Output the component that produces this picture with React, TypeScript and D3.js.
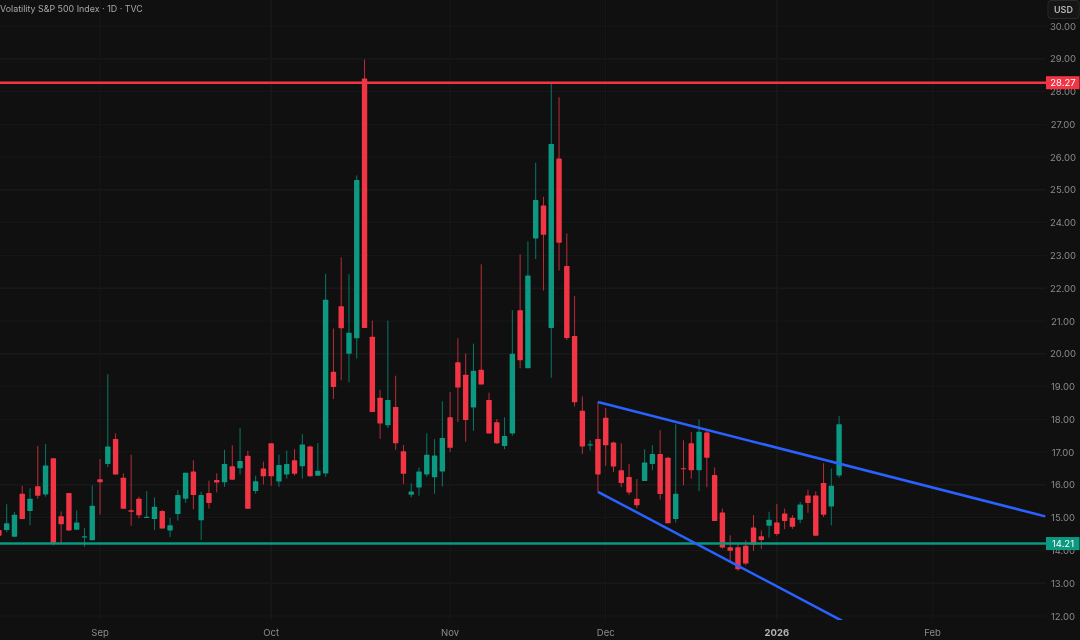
import React from "react";
import * as d3 from "d3";

const opens = [14.62,14.62,14.42,15.73,15.20,15.96,15.71,16.81,15.04,15.75,14.63,14.41,14.31,16.17,16.64,17.40,16.22,15.23,15.58,15.00,14.96,15.20,14.61,15.11,15.58,16.41,14.92,15.75,16.15,16.08,16.57,16.51,16.89,15.81,16.50,17.27,16.10,16.32,16.75,16.57,17.17,16.28,
16.35,19.45,21.45,20.00,20.47,28.40,20.52,18.66,17.82,18.38,17.03,15.70,15.92,16.32,16.23,16.41,18.06,19.74,19.36,18.36,19.51,18.59,17.91,17.19,17.57,21.33,19.56,23.52,24.52,20.79,25.96,22.68,20.54,18.26,17.21,
17.40,18.05,17.29,16.45,16.24,15.58,16.12,16.64,16.94,16.83,14.96,16.51,17.27,16.45,17.60,16.30,15.16,14.10,14.10,14.14,14.70,14.43,14.75,14.85,15.13,15.00,14.94,15.68,15.68,16.06,15.34,16.29];
const highs = [14.70,15.41,15.17,15.97,15.90,17.19,17.25,16.81,15.19,15.75,15.22,14.69,15.98,16.79,19.38,17.57,16.35,16.92,15.64,15.81,15.62,15.23,14.99,15.84,16.37,16.75,15.79,16.13,16.35,17.07,17.21,17.74,17.04,16.28,16.71,17.27,16.92,17.05,17.09,17.55,17.20,17.28,
22.44,20.77,22.94,22.43,25.44,28.98,21.01,18.90,21.01,19.33,17.22,16.05,16.53,17.57,17.40,18.55,18.83,20.47,20.01,20.31,22.73,18.81,18.01,18.06,21.33,23.03,23.43,25.83,24.79,28.25,27.83,23.67,21.76,18.70,17.36,
18.54,18.34,17.32,17.27,16.64,16.18,17.09,17.21,17.67,16.86,17.85,17.36,17.61,18.00,17.69,16.53,15.28,14.46,14.19,14.31,15.08,14.61,15.18,15.42,15.28,15.08,15.48,15.85,15.80,16.66,16.50,18.10];
const lows = [14.45,14.56,14.42,14.96,14.77,15.58,15.64,14.15,14.22,14.61,14.63,14.11,14.31,15.09,16.54,16.32,15.27,14.75,14.98,15.00,14.62,14.67,14.41,14.91,15.45,15.26,14.32,15.28,15.77,15.94,16.16,16.32,15.27,15.73,16.01,15.97,15.94,16.19,16.28,16.19,16.25,16.28,
16.24,18.62,19.19,19.13,19.85,20.79,18.22,17.41,17.73,17.07,16.02,15.62,15.67,16.25,15.73,15.95,17.01,17.92,17.32,17.65,19.06,17.57,17.25,17.09,17.50,19.56,19.56,22.89,21.93,19.27,22.54,20.42,18.39,16.94,17.05,
15.79,16.58,16.39,15.93,15.69,15.29,16.12,16.45,15.55,14.83,14.85,15.99,16.19,15.81,15.93,14.90,14.05,13.66,13.38,13.55,13.99,14.05,14.39,14.45,14.65,14.66,14.83,15.15,14.45,15.02,14.76,16.22];
const closes = [14.45,14.83,15.09,14.96,15.58,15.67,16.59,14.22,14.80,14.61,14.85,14.43,15.36,16.08,17.17,16.32,15.27,15.18,15.07,15.03,15.33,14.67,14.77,15.69,16.37,15.69,15.69,15.45,16.07,16.64,16.16,16.73,15.27,16.11,16.26,16.26,16.61,16.64,16.34,17.23,16.26,16.43,
21.65,18.99,20.78,20.64,25.30,20.79,18.22,17.87,18.59,17.27,16.34,15.80,16.41,16.92,16.90,17.43,17.13,18.97,17.98,19.48,19.06,17.57,17.27,17.49,20.00,19.80,22.39,24.69,23.63,26.40,23.39,20.48,18.52,17.17,17.24,
16.32,17.21,16.56,16.06,15.77,15.38,16.68,16.94,15.72,14.83,15.73,16.48,16.45,17.62,16.83,14.90,14.09,13.99,13.43,13.60,14.17,14.32,14.94,14.50,14.90,14.72,15.40,15.45,14.45,15.09,15.97,17.85];

const priceTicks = d3.range(12, 31);
const dateTickIndex = [13, 35, 58, 78, 100, 120];
const dateTickLabels = ["Sep", "Oct", "Nov", "Dec", "2026", "Feb"];
const resistance = 28.27;
const support = 14.21;
const upperTrendIndex = [77, 134.5];
const upperTrendPrice = [18.53, 15.04];
const lowerTrendIndex = [77, 108.4];
const lowerTrendPrice = [15.79, 11.85];
const title = "Volatility S&P 500 Index · 1D · TVC";

const W = 1080, H = 640, PLOT_R = 1046;
const UP = "#089981", DOWN = "#f23645", BLUE = "#2962ff", BG = "#101010", GRID = "#1a1a1a", TXT = "#8b8b8b";
const FONT = "Inter, Roboto, sans-serif";

const x = d3.scaleLinear().domain([0, 108]).range([-1.1, 839.1]);
const y = d3.scaleLinear().domain([12, 30]).range([616, 26]);
const trendLine = d3.line<[number, number]>().x(d => x(d[0])).y(d => y(d[1]));

function PriceTag({ value, fill }: { value: number; fill: string }) {
  return (
    <g>
      <rect x={PLOT_R} y={y(value) - 6.5} width={W - PLOT_R - 0.5} height={13} fill={fill} />
      <text x={1063} y={y(value) + 3.5} textAnchor="middle" fontSize={9.5} fill="#fff" fontFamily={FONT}>{value.toFixed(2)}</text>
    </g>
  );
}

export default function App() {
  return (
    <svg width={W} height={H} viewBox={`0 0 ${W} ${H}`} style={{ position: "fixed", left: 0, top: 0, background: BG }}>
      <rect width={W} height={H} fill={BG} />
      <defs>
        <clipPath id="plot"><rect x={0} y={0} width={PLOT_R} height={H - 20} /></clipPath>
        <filter id="soft" x="0" y="0" width="100%" height="100%"><feGaussianBlur stdDeviation={0.35} /></filter>
      </defs>
      <g filter="url(#soft)">
        {priceTicks.map(t => <line key={t} x1={0} x2={PLOT_R} y1={y(t)} y2={y(t)} stroke={GRID} strokeWidth={1} />)}
        {dateTickIndex.map(i => <line key={i} x1={x(i)} x2={x(i)} y1={0} y2={H - 20} stroke={GRID} strokeWidth={1} />)}
        <g clipPath="url(#plot)">
          {opens.map((o, i) => {
            const c = closes[i];
            const col = c >= o ? UP : DOWN;
            const top = y(Math.max(o, c));
            const h = Math.max(1.2, Math.abs(y(o) - y(c)));
            return (
              <g key={i}>
                <line x1={x(i)} x2={x(i)} y1={y(highs[i])} y2={y(lows[i])} stroke={col} strokeWidth={1} strokeOpacity={0.75} />
                <rect x={x(i) - 2.7} y={top} width={5.4} height={h} rx={0.6} fill={col} />
              </g>
            );
          })}
          <line x1={0} x2={PLOT_R} y1={y(resistance)} y2={y(resistance)} stroke={DOWN} strokeWidth={2.4} />
          <line x1={0} x2={PLOT_R} y1={y(support)} y2={y(support)} stroke={UP} strokeWidth={2.4} />
          <path d={trendLine(upperTrendIndex.map((v, k) => [v, upperTrendPrice[k]] as [number, number])) ?? ""} fill="none" stroke={BLUE} strokeWidth={2.5} />
          <path d={trendLine(lowerTrendIndex.map((v, k) => [v, lowerTrendPrice[k]] as [number, number])) ?? ""} fill="none" stroke={BLUE} strokeWidth={2.5} />
        </g>
        <text x={0} y={11.5} fontSize={8.9} fill="#a6a6a6" fontFamily={FONT}>{title}</text>
        {priceTicks.map(t => (
          <text key={t} x={1063} y={y(t) + 3.5} textAnchor="middle" fontSize={9.5} fill={TXT} fontFamily={FONT}>{t.toFixed(2)}</text>
        ))}
        <PriceTag value={resistance} fill={DOWN} />
        <PriceTag value={support} fill={UP} />
        <rect x={1048} y={0.5} width={31} height={18} rx={3} fill="#141414" stroke="#2a2a2a" />
        <text x={1063.5} y={12.5} textAnchor="middle" fontSize={9} fontWeight={600} fill="#b8b8b8" fontFamily={FONT}>USD</text>
        {dateTickIndex.map((i, k) => (
          <text key={i} x={x(i)} y={635.5} textAnchor="middle" fontSize={9.5} fontWeight={dateTickLabels[k] === "2026" ? 700 : 400} fill={dateTickLabels[k] === "2026" ? "#b4b4b4" : TXT} fontFamily={FONT}>{dateTickLabels[k]}</text>
        ))}
      </g>
    </svg>
  );
}
